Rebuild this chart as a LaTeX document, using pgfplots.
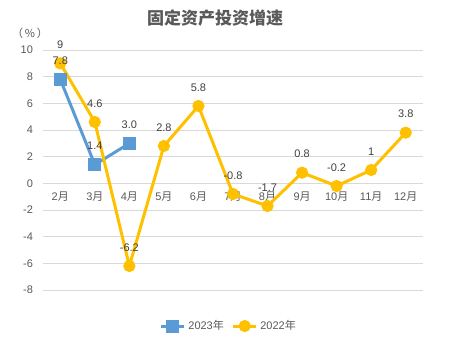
\documentclass[border=0pt]{standalone}
\usepackage{pgfplots}
\pgfplotsset{compat=1.18}
\usepackage{pgfplotstable}
\usepackage{fontspec}
\setmainfont{Liberation Sans}
\newfontfamily\cjk{Noto Sans CJK SC}
\definecolor{blue23}{HTML}{5B9BD5}
\definecolor{gold22}{HTML}{FFC000}
\definecolor{txt}{HTML}{595959}
\definecolor{lbl}{HTML}{404040}
\definecolor{gridc}{HTML}{D9D9D9}
\pgfplotstableread{
x y label
0 7.8 7.8
1 1.4 1.4
2 3.0 3.0
}\tabA
\pgfplotstableread{
x y label
0 9 9
1 4.6 4.6
2 -6.2 -6.2
3 2.8 2.8
4 5.8 5.8
5 -0.8 -0.8
6 -1.7 -1.7
7 0.8 0.8
8 -0.2 -0.2
9 1 1
10 3.8 3.8
}\tabB
\begin{document}
\begin{tikzpicture}
\path[use as bounding box] (-32.25pt,-37.5pt) rectangle (311.25pt,217.5pt);
\begin{axis}[at={(0,0)}, anchor=south west, scale only axis,
  width=285pt, height=180pt,
  xmin=-0.5, xmax=10.5, ymin=-8, ymax=10,
  ytick={-8,-6,...,10}, yticklabels={-8,-6,-4,-2,0,2,4,6,8,10},
  xtick={0,...,10},
  xticklabels={2{\cjk 月},3{\cjk 月},4{\cjk 月},5{\cjk 月},6{\cjk 月},7{\cjk 月},8{\cjk 月},9{\cjk 月},10{\cjk 月},11{\cjk 月},12{\cjk 月}},
  axis line style={draw=none}, major tick length=0pt,
  ymajorgrids, grid style={gridc, line width=0.75pt},
  tick label style={font=\fontsize{8.25}{10}\selectfont, text=txt},
  xticklabel style={yshift=77.5pt},
  yticklabel style={xshift=-4pt},
  clip=false,
  every node near coord/.append style={anchor=center, yshift=14pt, font=\fontsize{8.25}{10}\selectfont, text=lbl},
  legend style={at={(0.49,-0.15)}, anchor=center, draw=none, fill=none,
    legend columns=2, font=\fontsize{8.25}{10}\selectfont, text=txt,
    /tikz/every even column/.append style={column sep=4pt}},
]
\addplot[blue23, line width=2.25pt, mark=square*, mark size=3.75pt, mark options={solid}] table[x=x,y=y]{\tabA};
\addlegendentry{2023{\cjk 年}}
\addplot[gold22, line width=2.25pt, mark=*, mark size=3.4pt, mark options={solid}] table[x=x,y=y]{\tabB};
\addlegendentry{2022{\cjk 年}}
\addplot[draw=none, mark=none, forget plot, nodes near coords={\pgfplotspointmeta}, point meta=explicit symbolic] table[x=x,y=y,meta=label]{\tabA};
\addplot[draw=none, mark=none, forget plot, nodes near coords={\pgfplotspointmeta}, point meta=explicit symbolic] table[x=x,y=y,meta=label]{\tabB};
\end{axis}
\node[font=\cjk\bfseries\fontsize{12.75}{14}\selectfont, text=txt] at (129pt,204pt) {固定资产投资增速};
\node[font=\cjk\fontsize{8.25}{10}\selectfont, text=txt] at (-9.75pt,192.75pt) {（\,\%\,）};
\end{tikzpicture}
\end{document}
